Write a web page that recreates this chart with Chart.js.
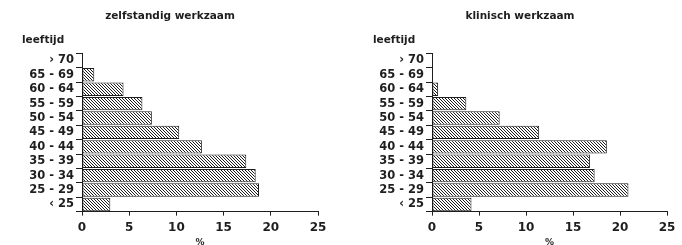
<!DOCTYPE html>
<html lang="nl">
<head>
<meta charset="utf-8">
<script src="https://cdn.jsdelivr.net/npm/chart.js@4/dist/chart.umd.min.js"></script>
<style>
  html, body { margin: 0; padding: 0; background: #fff; }
  .rij { display: flex; width: 682px; height: 245px; }
  canvas { display: block; }
</style>
</head>
<body>
<div class="rij">
  <canvas id="zelfstandig" width="341" height="245"></canvas>
  <canvas id="klinisch" width="341" height="245"></canvas>
</div>
<script>
// --- Data (percentages per leeftijdsklasse) ---
const leeftijden = ['› 70', '65 - 69', '60 - 64', '55 - 59', '50 - 54', '45 - 49',
                    '40 - 44', '35 - 39', '30 - 34', '25 - 29', '‹ 25'];
const zelfstandigWaarden = [0, 1.3, 4.4, 6.4, 7.4, 10.3, 12.7, 17.4, 18.4, 18.75, 3.0];
const klinischWaarden    = [0, 0, 0.65, 3.65, 7.2, 11.4, 18.6, 16.8, 17.3, 20.9, 4.2];
const asTicks = [0, 5, 10, 15, 20, 25];

const INKT = '#1e1e1e';
const FONT = "'DejaVu Sans', 'Liberation Sans', sans-serif";

// Arcering: schuine lijnen van linksboven naar rechtsonder
function maakArcering() {
  const c = document.createElement('canvas');
  c.width = 3;
  c.height = 3;
  const ctx = c.getContext('2d');
  ctx.fillStyle = '#fff';
  ctx.fillRect(0, 0, 3, 3);
  ctx.fillStyle = INKT;
  for (let i = 0; i < 3; i++) ctx.fillRect(i, i, 1, 1);
  return ctx.createPattern(c, 'repeat');
}

function maakGrafiek(id, titel, waarden, padLinks, asBreedte, padRechts) {
  const arcering = maakArcering();
  return new Chart(document.getElementById(id), {
    type: 'bar',
    data: {
      labels: leeftijden,
      datasets: [{
        data: waarden,
        backgroundColor: arcering,
        borderColor: INKT,
        borderWidth: 1,
        borderSkipped: false,
        categoryPercentage: 1,
        barPercentage: 0.93,
      }],
    },
    options: {
      indexAxis: 'y',
      responsive: false,
      animation: false,
      layout: { padding: { left: padLinks, right: padRechts, top: 0, bottom: 0 } },
      plugins: {
        legend: { display: false },
        tooltip: { enabled: false },
        title: {
          display: true,
          text: titel,
          color: INKT,
          font: { family: FONT, size: 10.5, weight: 'bold' },
          padding: { top: 10, bottom: 11 },
        },
        subtitle: {
          display: true,
          text: 'leeftijd',
          align: 'start',
          color: INKT,
          font: { family: FONT, size: 10.5, weight: 'bold' },
          padding: { top: 0, bottom: 7 },
        },
      },
      scales: {
        x: {
          min: 0,
          max: 25,
          afterBuildTicks: (as) => { as.ticks = asTicks.map(v => ({ value: v })); },
          grid: { drawOnChartArea: false, drawTicks: true, tickLength: 4, color: INKT },
          border: { display: true, color: INKT, width: 1 },
          ticks: {
            color: INKT,
            padding: 5,
            font: { family: FONT, size: 12, weight: 'bold' },
          },
          title: {
            display: true,
            text: '%',
            color: INKT,
            font: { family: FONT, size: 9, weight: 'bold', lineHeight: 0.55 },
            padding: { top: 0, bottom: 0 },
          },
        },
        y: {
          afterFit: (as) => { as.width = asBreedte; },
          grid: { drawOnChartArea: false, drawTicks: true, tickLength: 6, color: INKT },
          border: { display: true, color: INKT, width: 1 },
          ticks: {
            color: INKT,
            padding: 2,
            autoSkip: false,
            font: { family: FONT, size: 11.5, weight: 'bold' },
          },
        },
      },
    },
  });
}

maakGrafiek('zelfstandig', 'zelfstandig werkzaam', zelfstandigWaarden, 22, 60, 23);
maakGrafiek('klinisch', 'klinisch werkzaam', klinischWaarden, 32, 59, 15);
</script>
</body>
</html>
